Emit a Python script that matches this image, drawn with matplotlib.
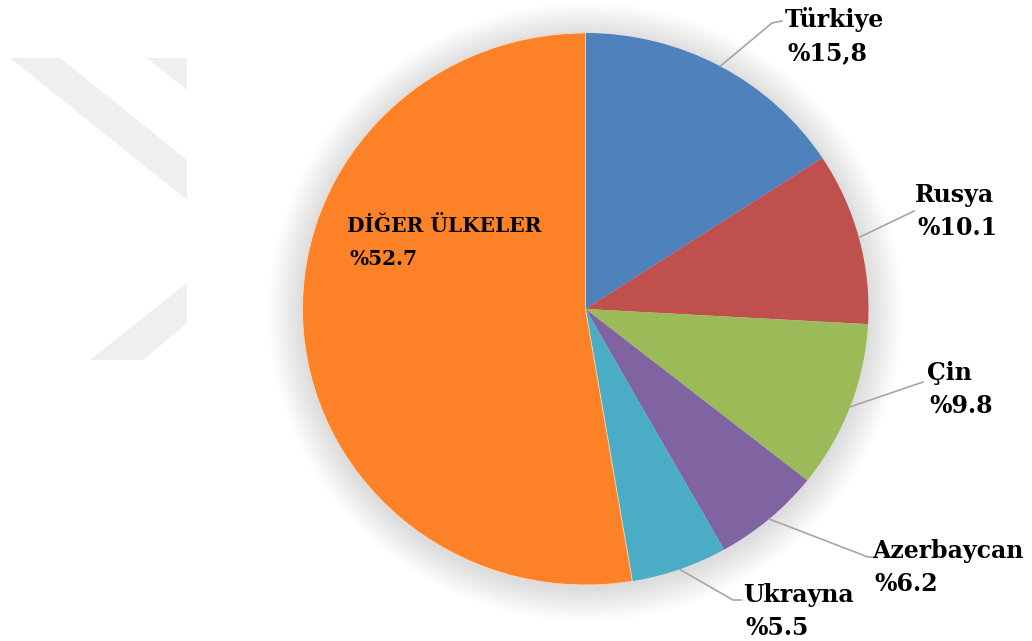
import numpy as np
import matplotlib.pyplot as plt
from matplotlib.patches import Polygon, Ellipse

# --------------- DATA ---------------
names = ['Türkiye', 'Rusya', 'Çin', 'Azerbaycan', 'Ukrayna', 'DİĞER ÜLKELER']
values = [15.8, 10.1, 9.8, 6.2, 5.5, 52.7]
pct_labels = ['%15,8', '%10.1', '%9.8', '%6.2', '%5.5', '%52.7']
colors = ['#4F81BD', '#C0504D', '#9BBB59', '#8064A2', '#4BACC6', '#FD8227']

# --------------- LAYOUT (pixels) ---------------
W, H = 1032, 641
cx, cy, rx, ry = 585.5, 309, 283, 276
label_pos = [(785, 27), (915, 202), (927, 380), (872, 558), (743, 602), (347, 232)]
label_size = [17, 17, 17, 17, 17, 14.5]
elbows = [[(772, 23), (782, 21)], [(910, 213), (914, 211)], [(923, 382)],
          [(868, 557), (872, 557)], [(733, 600), (741, 600)], None]

fig = plt.figure(figsize=(W / 100, H / 100), dpi=100)

# background: watermark + shadow
bg = fig.add_axes([0, 0, 1, 1])
bg.set_xlim(0, W)
bg.set_ylim(H, 0)
bg.axis('off')
for pts in [[(10, 58), (60, 58), (187, 160), (187, 200)],
            [(147, 58), (187, 58), (187, 90)],
            [(187, 283), (187, 323), (143, 360), (90, 360)]]:
    bg.add_patch(Polygon(pts, closed=True, color='#efefef', lw=0))
for k in range(1, 18):
    s = 1 + 0.007 * k
    bg.add_patch(Ellipse((cx, cy + 3), 2 * rx * s, 2 * ry * s, color='#8a8a8a',
                         alpha=0.016, lw=0))

# pie
ax = fig.add_axes([(cx - rx) / W, 1 - (cy + ry) / H, 2 * rx / W, 2 * ry / H])
wedges, _ = ax.pie(values, colors=colors, startangle=90, counterclock=False,
                   wedgeprops=dict(linewidth=0))
wedges[-1].set_edgecolor('#fbd9bd')
wedges[-1].set_linewidth(0.6)
ax.set_aspect('auto')
ax.set_xlim(-1, 1)
ax.set_ylim(-1, 1)
ax.axis('off')

# labels and leader lines
top = fig.add_axes([0, 0, 1, 1])
top.set_xlim(0, W)
top.set_ylim(H, 0)
top.axis('off')
top.patch.set_alpha(0)
for i, w in enumerate(wedges):
    x0, y0 = label_pos[i]
    top.text(x0, y0, names[i], fontsize=label_size[i], fontweight='bold',
             family='DejaVu Serif', va='baseline', ha='left')
    top.text(x0 + 2, y0 + 33, pct_labels[i], fontsize=label_size[i], fontweight='bold',
             family='DejaVu Serif', va='baseline', ha='left')
    if elbows[i] is None:
        continue
    mid = np.deg2rad((w.theta1 + w.theta2) / 2)
    start = (cx + rx * np.cos(mid), cy - ry * np.sin(mid))
    pts = [start] + elbows[i]
    top.plot([p[0] for p in pts], [p[1] for p in pts], color='#a6a6a6', lw=1.2)

fig.savefig('out.png', dpi=100)
